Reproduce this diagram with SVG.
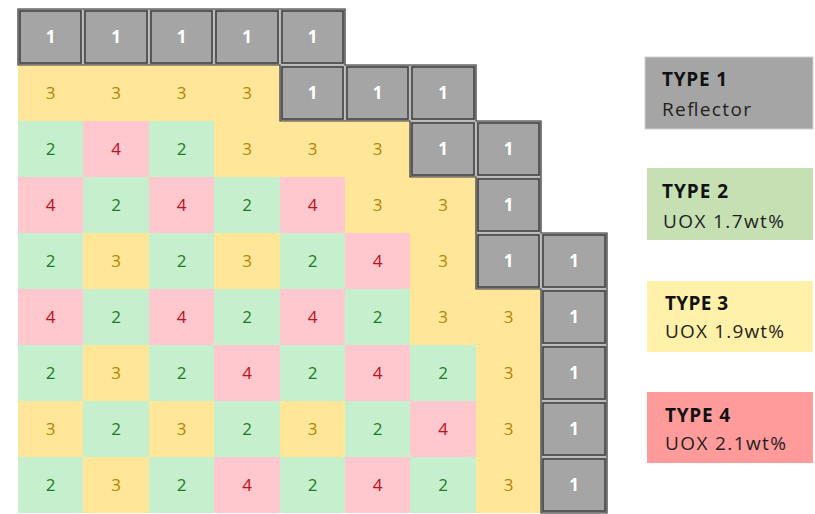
<svg xmlns="http://www.w3.org/2000/svg" width="815" height="514" viewBox="0 0 815 514">
<style>
.y{fill:#FFE699}.gr{fill:#C6EFCE}.p{fill:#FFC7CE}
.gy{fill:#A5A5A5;stroke:#C8C8C8;stroke-width:1}
.gi{fill:none;stroke:#3F3F3F;stroke-width:1.5}
.n{font-family:'Open Sans',sans-serif;font-size:17px;text-anchor:middle}
.n1{fill:#FFFFFF;font-weight:bold}.n2{fill:#1E7B22}.n3{fill:#B98300}.n4{fill:#C0101A}
.lt{font-family:'Open Sans',sans-serif;font-size:19px;fill:#1F1F1F}
.lb{font-weight:bold;fill:#111111}
</style>
<rect width="815" height="514" fill="#FFFFFF"/>
<g id="grid">
<!-- row 0 -->
<g id="r0c0"><rect class="gy" x="18" y="9" width="65" height="56"/><rect class="gi" x="20" y="11" width="61" height="52"/><text class="n n1" x="50.5" y="43">1</text></g>
<g id="r0c1"><rect class="gy" x="83" y="9" width="66" height="56"/><rect class="gi" x="85" y="11" width="62" height="52"/><text class="n n1" x="116" y="43">1</text></g>
<g id="r0c2"><rect class="gy" x="149" y="9" width="65" height="56"/><rect class="gi" x="151" y="11" width="61" height="52"/><text class="n n1" x="181.5" y="43">1</text></g>
<g id="r0c3"><rect class="gy" x="214" y="9" width="66" height="56"/><rect class="gi" x="216" y="11" width="62" height="52"/><text class="n n1" x="247" y="43">1</text></g>
<g id="r0c4"><rect class="gy" x="280" y="9" width="65" height="56"/><rect class="gi" x="282" y="11" width="61" height="52"/><text class="n n1" x="312.5" y="43">1</text></g>
<!-- row 1 -->
<g id="r1c0"><rect class="y" x="18" y="65" width="65" height="56"/><text class="n n3" x="50.5" y="99">3</text></g>
<g id="r1c1"><rect class="y" x="83" y="65" width="66" height="56"/><text class="n n3" x="116" y="99">3</text></g>
<g id="r1c2"><rect class="y" x="149" y="65" width="65" height="56"/><text class="n n3" x="181.5" y="99">3</text></g>
<g id="r1c3"><rect class="y" x="214" y="65" width="66" height="56"/><text class="n n3" x="247" y="99">3</text></g>
<g id="r1c4"><rect class="gy" x="280" y="65" width="65" height="56"/><rect class="gi" x="282" y="67" width="61" height="52"/><text class="n n1" x="312.5" y="99">1</text></g>
<g id="r1c5"><rect class="gy" x="345" y="65" width="65" height="56"/><rect class="gi" x="347" y="67" width="61" height="52"/><text class="n n1" x="377.5" y="99">1</text></g>
<g id="r1c6"><rect class="gy" x="410" y="65" width="66" height="56"/><rect class="gi" x="412" y="67" width="62" height="52"/><text class="n n1" x="443" y="99">1</text></g>
<!-- row 2 -->
<g id="r2c0"><rect class="gr" x="18" y="121" width="65" height="56"/><text class="n n2" x="50.5" y="155">2</text></g>
<g id="r2c1"><rect class="p" x="83" y="121" width="66" height="56"/><text class="n n4" x="116" y="155">4</text></g>
<g id="r2c2"><rect class="gr" x="149" y="121" width="65" height="56"/><text class="n n2" x="181.5" y="155">2</text></g>
<g id="r2c3"><rect class="y" x="214" y="121" width="66" height="56"/><text class="n n3" x="247" y="155">3</text></g>
<g id="r2c4"><rect class="y" x="280" y="121" width="65" height="56"/><text class="n n3" x="312.5" y="155">3</text></g>
<g id="r2c5"><rect class="y" x="345" y="121" width="65" height="56"/><text class="n n3" x="377.5" y="155">3</text></g>
<g id="r2c6"><rect class="gy" x="410" y="121" width="66" height="56"/><rect class="gi" x="412" y="123" width="62" height="52"/><text class="n n1" x="443" y="155">1</text></g>
<g id="r2c7"><rect class="gy" x="476" y="121" width="65" height="56"/><rect class="gi" x="478" y="123" width="61" height="52"/><text class="n n1" x="508.5" y="155">1</text></g>
<!-- row 3 -->
<g id="r3c0"><rect class="p" x="18" y="177" width="65" height="56"/><text class="n n4" x="50.5" y="211">4</text></g>
<g id="r3c1"><rect class="gr" x="83" y="177" width="66" height="56"/><text class="n n2" x="116" y="211">2</text></g>
<g id="r3c2"><rect class="p" x="149" y="177" width="65" height="56"/><text class="n n4" x="181.5" y="211">4</text></g>
<g id="r3c3"><rect class="gr" x="214" y="177" width="66" height="56"/><text class="n n2" x="247" y="211">2</text></g>
<g id="r3c4"><rect class="p" x="280" y="177" width="65" height="56"/><text class="n n4" x="312.5" y="211">4</text></g>
<g id="r3c5"><rect class="y" x="345" y="177" width="65" height="56"/><text class="n n3" x="377.5" y="211">3</text></g>
<g id="r3c6"><rect class="y" x="410" y="177" width="66" height="56"/><text class="n n3" x="443" y="211">3</text></g>
<g id="r3c7"><rect class="gy" x="476" y="177" width="65" height="56"/><rect class="gi" x="478" y="179" width="61" height="52"/><text class="n n1" x="508.5" y="211">1</text></g>
<!-- row 4 -->
<g id="r4c0"><rect class="gr" x="18" y="233" width="65" height="56"/><text class="n n2" x="50.5" y="267">2</text></g>
<g id="r4c1"><rect class="y" x="83" y="233" width="66" height="56"/><text class="n n3" x="116" y="267">3</text></g>
<g id="r4c2"><rect class="gr" x="149" y="233" width="65" height="56"/><text class="n n2" x="181.5" y="267">2</text></g>
<g id="r4c3"><rect class="y" x="214" y="233" width="66" height="56"/><text class="n n3" x="247" y="267">3</text></g>
<g id="r4c4"><rect class="gr" x="280" y="233" width="65" height="56"/><text class="n n2" x="312.5" y="267">2</text></g>
<g id="r4c5"><rect class="p" x="345" y="233" width="65" height="56"/><text class="n n4" x="377.5" y="267">4</text></g>
<g id="r4c6"><rect class="y" x="410" y="233" width="66" height="56"/><text class="n n3" x="443" y="267">3</text></g>
<g id="r4c7"><rect class="gy" x="476" y="233" width="65" height="56"/><rect class="gi" x="478" y="235" width="61" height="52"/><text class="n n1" x="508.5" y="267">1</text></g>
<g id="r4c8"><rect class="gy" x="541" y="233" width="66" height="56"/><rect class="gi" x="543" y="235" width="62" height="52"/><text class="n n1" x="574" y="267">1</text></g>
<!-- row 5 -->
<g id="r5c0"><rect class="p" x="18" y="289" width="65" height="56"/><text class="n n4" x="50.5" y="323">4</text></g>
<g id="r5c1"><rect class="gr" x="83" y="289" width="66" height="56"/><text class="n n2" x="116" y="323">2</text></g>
<g id="r5c2"><rect class="p" x="149" y="289" width="65" height="56"/><text class="n n4" x="181.5" y="323">4</text></g>
<g id="r5c3"><rect class="gr" x="214" y="289" width="66" height="56"/><text class="n n2" x="247" y="323">2</text></g>
<g id="r5c4"><rect class="p" x="280" y="289" width="65" height="56"/><text class="n n4" x="312.5" y="323">4</text></g>
<g id="r5c5"><rect class="gr" x="345" y="289" width="65" height="56"/><text class="n n2" x="377.5" y="323">2</text></g>
<g id="r5c6"><rect class="y" x="410" y="289" width="66" height="56"/><text class="n n3" x="443" y="323">3</text></g>
<g id="r5c7"><rect class="y" x="476" y="289" width="65" height="56"/><text class="n n3" x="508.5" y="323">3</text></g>
<g id="r5c8"><rect class="gy" x="541" y="289" width="66" height="56"/><rect class="gi" x="543" y="291" width="62" height="52"/><text class="n n1" x="574" y="323">1</text></g>
<!-- row 6 -->
<g id="r6c0"><rect class="gr" x="18" y="345" width="65" height="56"/><text class="n n2" x="50.5" y="379">2</text></g>
<g id="r6c1"><rect class="y" x="83" y="345" width="66" height="56"/><text class="n n3" x="116" y="379">3</text></g>
<g id="r6c2"><rect class="gr" x="149" y="345" width="65" height="56"/><text class="n n2" x="181.5" y="379">2</text></g>
<g id="r6c3"><rect class="p" x="214" y="345" width="66" height="56"/><text class="n n4" x="247" y="379">4</text></g>
<g id="r6c4"><rect class="gr" x="280" y="345" width="65" height="56"/><text class="n n2" x="312.5" y="379">2</text></g>
<g id="r6c5"><rect class="p" x="345" y="345" width="65" height="56"/><text class="n n4" x="377.5" y="379">4</text></g>
<g id="r6c6"><rect class="gr" x="410" y="345" width="66" height="56"/><text class="n n2" x="443" y="379">2</text></g>
<g id="r6c7"><rect class="y" x="476" y="345" width="65" height="56"/><text class="n n3" x="508.5" y="379">3</text></g>
<g id="r6c8"><rect class="gy" x="541" y="345" width="66" height="56"/><rect class="gi" x="543" y="347" width="62" height="52"/><text class="n n1" x="574" y="379">1</text></g>
<!-- row 7 -->
<g id="r7c0"><rect class="y" x="18" y="401" width="65" height="56"/><text class="n n3" x="50.5" y="435">3</text></g>
<g id="r7c1"><rect class="gr" x="83" y="401" width="66" height="56"/><text class="n n2" x="116" y="435">2</text></g>
<g id="r7c2"><rect class="y" x="149" y="401" width="65" height="56"/><text class="n n3" x="181.5" y="435">3</text></g>
<g id="r7c3"><rect class="gr" x="214" y="401" width="66" height="56"/><text class="n n2" x="247" y="435">2</text></g>
<g id="r7c4"><rect class="y" x="280" y="401" width="65" height="56"/><text class="n n3" x="312.5" y="435">3</text></g>
<g id="r7c5"><rect class="gr" x="345" y="401" width="65" height="56"/><text class="n n2" x="377.5" y="435">2</text></g>
<g id="r7c6"><rect class="p" x="410" y="401" width="66" height="56"/><text class="n n4" x="443" y="435">4</text></g>
<g id="r7c7"><rect class="y" x="476" y="401" width="65" height="56"/><text class="n n3" x="508.5" y="435">3</text></g>
<g id="r7c8"><rect class="gy" x="541" y="401" width="66" height="56"/><rect class="gi" x="543" y="403" width="62" height="52"/><text class="n n1" x="574" y="435">1</text></g>
<!-- row 8 -->
<g id="r8c0"><rect class="gr" x="18" y="457" width="65" height="56"/><text class="n n2" x="50.5" y="491">2</text></g>
<g id="r8c1"><rect class="y" x="83" y="457" width="66" height="56"/><text class="n n3" x="116" y="491">3</text></g>
<g id="r8c2"><rect class="gr" x="149" y="457" width="65" height="56"/><text class="n n2" x="181.5" y="491">2</text></g>
<g id="r8c3"><rect class="p" x="214" y="457" width="66" height="56"/><text class="n n4" x="247" y="491">4</text></g>
<g id="r8c4"><rect class="gr" x="280" y="457" width="65" height="56"/><text class="n n2" x="312.5" y="491">2</text></g>
<g id="r8c5"><rect class="p" x="345" y="457" width="65" height="56"/><text class="n n4" x="377.5" y="491">4</text></g>
<g id="r8c6"><rect class="gr" x="410" y="457" width="66" height="56"/><text class="n n2" x="443" y="491">2</text></g>
<g id="r8c7"><rect class="y" x="476" y="457" width="65" height="56"/><text class="n n3" x="508.5" y="491">3</text></g>
<g id="r8c8"><rect class="gy" x="541" y="457" width="66" height="56"/><rect class="gi" x="543" y="459" width="62" height="52"/><text class="n n1" x="574" y="491">1</text></g>
</g>
<g id="reflector-outline">
<path d="M18,9 H345 V65 H476 V121 H541 V233 H607 V513 H541 V289 H476 V177 H410 V121 H280 V65 H18 Z" fill="none" stroke="#3F3F3F" stroke-width="1.2"/>
</g>
<g id="legend-type1"><rect x="645" y="57" width="168" height="72" fill="#A5A5A5" stroke="#D0D0D0" stroke-width="1"/><text class="lt lb" x="662" y="86" textLength="65">TYPE 1</text><text class="lt" x="662" y="115.5" textLength="89">Reflector</text></g>
<g id="legend-type2"><rect x="647" y="168" width="166" height="72" fill="#C6E0B4"/><text class="lt lb" x="662" y="197.5" textLength="66">TYPE 2</text><text class="lt" x="663" y="228" textLength="121">UOX 1.7wt%</text></g>
<g id="legend-type3"><rect x="647" y="281" width="166" height="71" fill="#FFF1A9"/><text class="lt lb" x="665" y="310" textLength="63">TYPE 3</text><text class="lt" x="665" y="338" textLength="119">UOX 1.9wt%</text></g>
<g id="legend-type4"><rect x="647" y="392" width="166" height="71" fill="#FF9B9B"/><text class="lt lb" x="665" y="421.5" textLength="65">TYPE 4</text><text class="lt" x="665" y="450" textLength="121">UOX 2.1wt%</text></g>
</svg>
